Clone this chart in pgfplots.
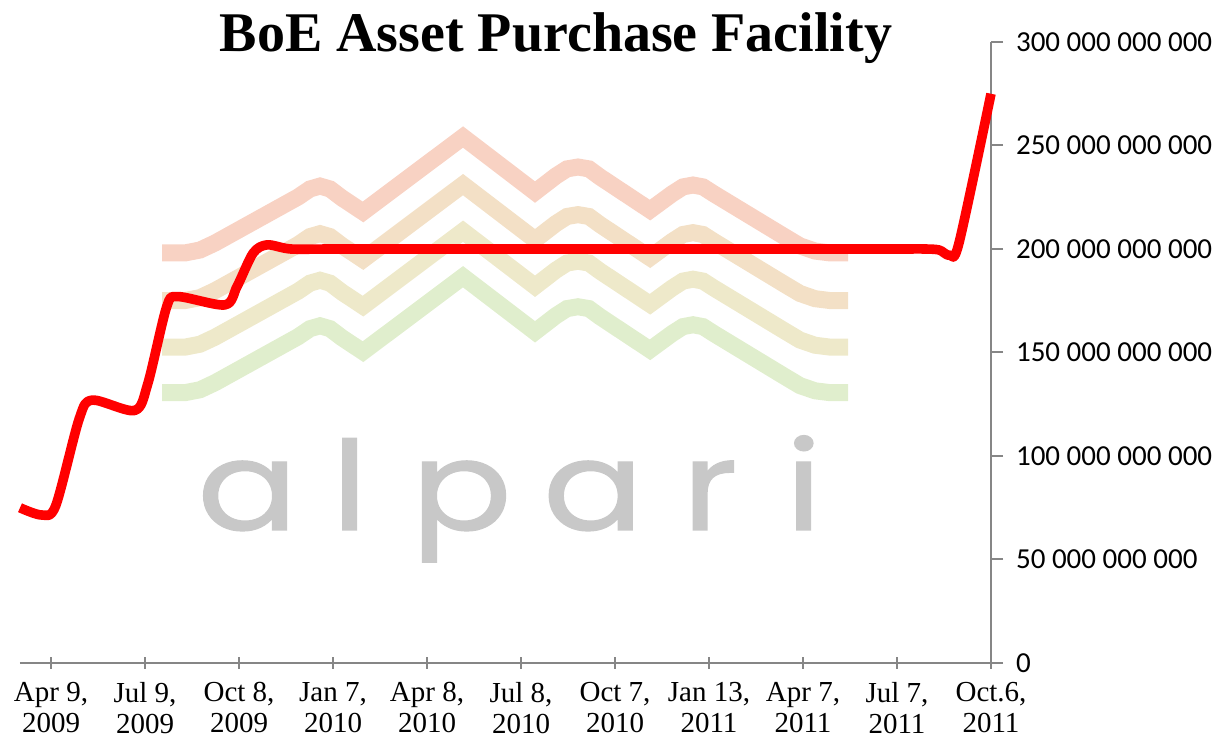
\documentclass[border=0pt]{standalone}
\usepackage{fontspec}
\setmainfont{Liberation Serif}
\newfontfamily\carlito{Carlito}
\newfontfamily\wmfont[FakeBold=1]{Poppins}
\usepackage{graphicx}
\usepackage{pgfplots}
\pgfplotsset{compat=1.18}
\usepackage{pgfplotstable}
\usetikzlibrary{calc}
\definecolor{axgray}{RGB}{134,134,134}
\definecolor{wmgray}{RGB}{200,200,200}
\definecolor{bandA}{RGB}{248,210,195}
\definecolor{bandB}{RGB}{243,224,198}
\definecolor{bandC}{RGB}{238,233,202}
\definecolor{bandD}{RGB}{224,238,205}

% BoE APF, billions GBP; x = quarters after Apr 9, 2009
\pgfplotstableread{
q v
-0.33 75.0
-0.10 71.5
0.05 76
0.30 118
0.44 127
0.89 122
1.03 135
1.23 172
1.35 177
1.85 173
1.98 182
2.15 198
2.30 202
2.55 200
3 200
4 200
5 200
6 200
7 200
8 200
9 200
9.30 200
9.45 199.5
9.56 197
9.66 203
10.0 275
}\apf

\pgfplotstableread{
q b1 b2 b3 b4
1.181 198.1 175.1 152.6 130.6
1.426 198.1 175.1 152.6 130.6
1.585 199.5 176.5 154.0 132.0
1.745 202.9 179.9 157.4 135.4
2.628 225.1 202.1 179.6 157.6
2.755 229.0 206.0 183.5 161.5
2.862 230.4 207.4 184.9 162.9
2.968 229.0 206.0 183.5 161.5
3.096 224.6 201.6 179.1 157.1
3.319 217.9 194.9 172.4 150.4
4.383 254.1 231.1 208.6 186.6
5.149 227.5 204.5 182.0 160.0
5.372 235.3 212.3 189.8 167.8
5.489 238.7 215.7 193.2 171.2
5.606 239.6 216.6 194.1 172.1
5.723 238.7 215.7 193.2 171.2
5.840 234.8 211.8 189.3 167.3
6.372 218.8 195.8 173.3 151.3
6.606 226.6 203.6 181.1 159.1
6.723 230.0 207.0 184.5 162.5
6.830 230.9 207.9 185.4 163.4
6.936 230.0 207.0 184.5 162.5
7.053 226.6 203.6 181.1 159.1
7.809 205.8 182.8 160.3 138.3
7.968 201.5 178.5 156.0 134.0
8.128 199.0 176.0 153.5 131.5
8.287 198.1 175.1 152.6 130.6
8.479 198.1 175.1 152.6 130.6
}\waves

\begin{document}
\begin{tikzpicture}
\begin{axis}[
  scale only axis, width=485.5pt, height=310.5pt,
  xmin=-0.33, xmax=10, ymin=0, ymax=300,
  axis x line=bottom, axis y line=right,
  axis line style={axgray, line width=1pt, -},
  xtick={0,...,10},
  xticklabels={{Apr 9,\\2009},{Jul 9,\\2009},{Oct 8,\\2009},{Jan 7,\\2010},{Apr 8,\\2010},{Jul 8,\\2010},{Oct 7,\\2010},{Jan 13,\\2011},{Apr 7,\\2011},{Jul 7,\\2011},{Oct.6,\\2011}},
  xtick align=center, ytick align=outside,
  major tick length=6pt,
  tick style={axgray, line width=1pt},
  ytick={0,50,100,150,200,250,300},
  yticklabels={0,50~000~000~000,100~000~000~000,150~000~000~000,200~000~000~000,250~000~000~000,300~000~000~000},
  xticklabel style={font=\fontsize{14.5}{15.5}\selectfont, align=center, text=black, yshift=-3pt},
  yticklabel style={font=\carlito\fontsize{14.5}{16}\selectfont, text=black, xshift=3pt},
  clip=false,
]
\coordinate (SW) at (rel axis cs:0,0);
\coordinate (NE) at (rel axis cs:1,1);
\addplot[no markers, line width=8.5pt, color=bandA] table[x=q,y=b1]{\waves};
\addplot[no markers, line width=8.5pt, color=bandB] table[x=q,y=b2]{\waves};
\addplot[no markers, line width=8.5pt, color=bandC] table[x=q,y=b3]{\waves};
\addplot[no markers, line width=8.5pt, color=bandD] table[x=q,y=b4]{\waves};
\node[anchor=base, text=wmgray, font=\wmfont\fontsize{62}{64}\selectfont, inner sep=0pt] at (axis cs:4.88,64.3) {\scalebox{1.2}[1]{a\hspace{14pt}l\hspace{18pt}p\hspace{13pt}a\hspace{16pt}r\hspace{20pt}i}};
\addplot[red, line width=4.8pt, smooth, no markers, line join=round] table[x=q,y=v]{\apf};
\node[anchor=base, font=\bfseries\fontsize{28}{30}\selectfont, inner sep=0pt] at (rel axis cs:0.552,0.984) {BoE Asset Purchase Facility};
\end{axis}
\pgfresetboundingbox
\path[use as bounding box] ($(SW)+(-10pt,-37.5pt)$) rectangle ($(NE)+(120pt,21pt)$);
\end{tikzpicture}
\end{document}
